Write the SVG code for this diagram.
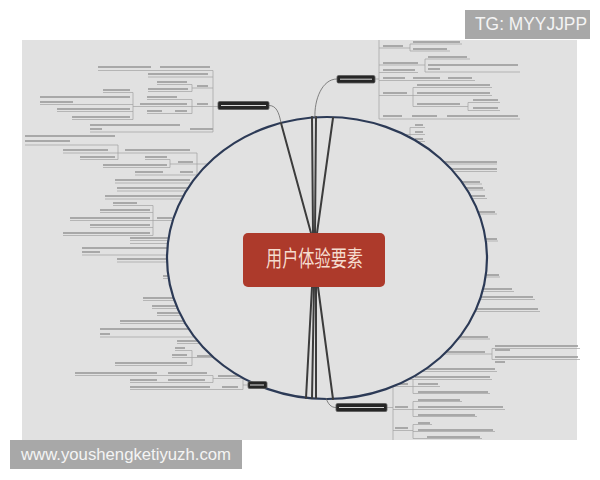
<svg xmlns="http://www.w3.org/2000/svg" width="600" height="480" viewBox="0 0 600 480">
<style>
.t{fill:none;stroke:#959595;stroke-width:1.5}
.u{fill:none;stroke:#a2a2a2;stroke-width:0.7}
.br{fill:none;stroke:#3c3c3c;stroke-width:2;stroke-linecap:round}
.th{fill:none;stroke:#666;stroke-width:0.8}
.dn{fill:#262626;stroke:#5a5a5a;stroke-width:0.8}
.dt{fill:none;stroke:#d8d8d8;stroke-width:1}
.wm{fill:#a8a8a8}
.wt{font-family:"Liberation Sans",Arial,sans-serif;fill:#f4f4f4}
</style>
<rect width="600" height="480" fill="#ffffff"/>
<rect x="22" y="40" width="555" height="400" fill="#e1e1e1"/>
<g id="branches">
<path class="t" d="M98 67H151M160 67H210M148 74H208M157 82H187M148 89H188M197 86H208M197 104H208M147 97H177M140 104H187M147 111H162M175 111H187M103 90H130M40 97H130M40 102H73M57 109H130M72 117H130M90 125H180M90 129H102M190 129H213
M25 136H115M25 141H70M63 150H108M80 157H115M125 150H190M145 157H167M103 165H167M178 162H193M135 172H163M180 172H193M115 180H190M117 188H190M105 196H190M113 203H137M100 210H150M70 218H150M157 218H172M90 225H150M63 233H150M130 238H170
M82 248H168M82 252H100M117 259H168M163 276H170M143 298H174M152 306H178M157 313H181M120 321H186M100 329H190M100 334H110M177 341H199M175 348H185M172 355H187M115 363H187M197 356H214M75 373H157M168 373H207M130 380H157M168 380H205M218 376H240M130 387H210M222 387H238
M413 42H460M413 49H447M383 46H403M428 57H467M428 65H518M428 69H440M383 63H418M383 70H415M383 78H405M413 78H440M448 78H472M417 85H490M417 93H490M417 104H460M473 100H498M473 108H498M383 93H407M383 116H402M412 116H437M447 116H518
M415 125H423M415 132H423M415 139H423M440 162H497M445 169H497M455 182H480M460 188H483M465 196H485M475 212H495M480 239H497M480 275H499M480 289H512M470 297H533M465 309H538M450 337H488M495 346H578M495 350H510M495 357H578M495 362H505M440 352H485M420 369H495M415 377H490
M395 384H408M418 384H438M418 392H488M418 400H460M395 407H408M418 407H503M418 415H475M418 423H430M395 428H408M418 430H493M427 437H480"/>
<path class="u" d="M98 70.5H213M148 77H213M157 84.5H192M148 91.5H192M192 88H213M147 99.5H192M133 106.5H218M147 113.5H192M103 92.5H133M40 104.5H133M57 111.5H133M72 119.5H133M90 132H213M213 70.5V132M192 84.5V91.5M192 99.5V113.5M133 92.5V119.5
M25 145H118M63 153H118M80 159.5H118M118 145V159.5M118 153H197M145 159.5H170M103 167.5H170M170 159.5V167.5M170 164H197M135 175H197M197 153V175M197 164H215M115 183H200M117 191H200M105 199H200M113 205.5H153M100 212.5H153M70 220.5H185M90 227.5H153M63 235.5H153M153 205.5V235.5M130 240.5H180
M130 243.5H180M82 255H180M117 262H180M163 278.5H180M143 300.5H185M152 308.5H185M157 315.5H190M120 323.5H195M100 337H200M177 343.5H205M175 350.5H192M172 357.5H220M115 365.5H192M192 350.5V365.5M75 375.5H213M130 382.5H213M213 375.5V382.5M213 378.5H243M130 389.5H243M243 378.5V389.5M243 385H248
M410 44H462M410 51H450M410 44V51M379 48H410M425 59H470M425 72H520M425 59V72M379 65H425M379 72.5H418M379 80.5H475M413 87.5H492M413 95.5H492M413 106.5H468M468 102.5V110.5M468 102.5H500M468 110.5H500M379 95.5H413M413 87.5V106.5M379 119H520M379 40V119M375 79H379
M410 127.5H425M410 134.5H425M410 141.5H425M410 127.5V141.5M395 134.5H410M430 164H497M440 171.5H497M450 184H482M455 190H485M460 198.5H487M470 214H497M475 241H498M475 277H500M475 291.5H514M470 299.5H535M460 311.5H540M445 339H490M435 354H492M492 348.5V359.5M492 348.5H580M492 359.5H580M410 371.5H497M400 379.5H492
M393 380V440M393 407.5H387M393 386.5H413M413 379.5V393.5M413 386.5H440M413 393.5H490M393 409.5H413M413 401.5V416.5M413 401.5H462M413 409.5H505M413 416.5H477M393 430.5H413M413 424.5V438.5M413 424.5H432M413 431.5H495M413 438.5H482"/>
</g>
<ellipse id="frame" cx="327" cy="258" rx="160" ry="141" fill="#e1e1e1" stroke="#2c3a56" stroke-width="2.2"/>
<g id="connectors">
<path class="br" d="M311 233L281 123M313 233L312 117M315 233L316 117M317 233L333 118"/>
<path class="br" d="M312 287L306 398M314 287L312 398M316 287L316 398M318 287L333 399"/>
<path class="th" d="M281 123C279 112 276 105.5 269 105.5"/>
<path class="th" d="M315 118C314 100 322 79 337 79"/>
<path class="th" d="M326 398C328 404 331 407.5 336 407.5"/>
</g>
<g id="center">
<rect x="243" y="233" width="142" height="54" rx="5" fill="#ad3a2b"/>
<text x="266" y="266" font-size="22" textLength="97" lengthAdjust="spacingAndGlyphs" font-family="'Noto Sans CJK SC',sans-serif" fill="#f5dccf">用户体验要素</text>
</g>
<g id="node-strategy">
<rect class="dn" x="218" y="101.5" width="51" height="8" rx="1.5"/>
<path class="dt" d="M221 105.5H266"/>
</g>
<g id="node-scope-top">
<rect class="dn" x="337" y="75.5" width="38" height="7.5" rx="1.5"/>
<path class="dt" d="M340 79.2H372"/>
</g>
<g id="node-surface">
<rect class="dn" x="248" y="381.5" width="19" height="7" rx="1.5"/>
<path class="dt" d="M250 385H264"/>
</g>
<g id="node-scope">
<rect class="dn" x="336" y="403.5" width="51" height="8" rx="1.5"/>
<path class="dt" d="M339 407.5H384"/>
</g>
<g id="watermarks">
<rect class="wm" x="465" y="10" width="125" height="29"/>
<text class="wt" x="475" y="30" font-size="17.5" textLength="112" lengthAdjust="spacingAndGlyphs">TG: MYYJJPP</text>
<rect class="wm" x="10" y="440" width="232" height="29"/>
<text class="wt" x="21" y="460" font-size="17" textLength="210" lengthAdjust="spacingAndGlyphs">www.youshengketiyuzh.com</text>
</g>
</svg>
